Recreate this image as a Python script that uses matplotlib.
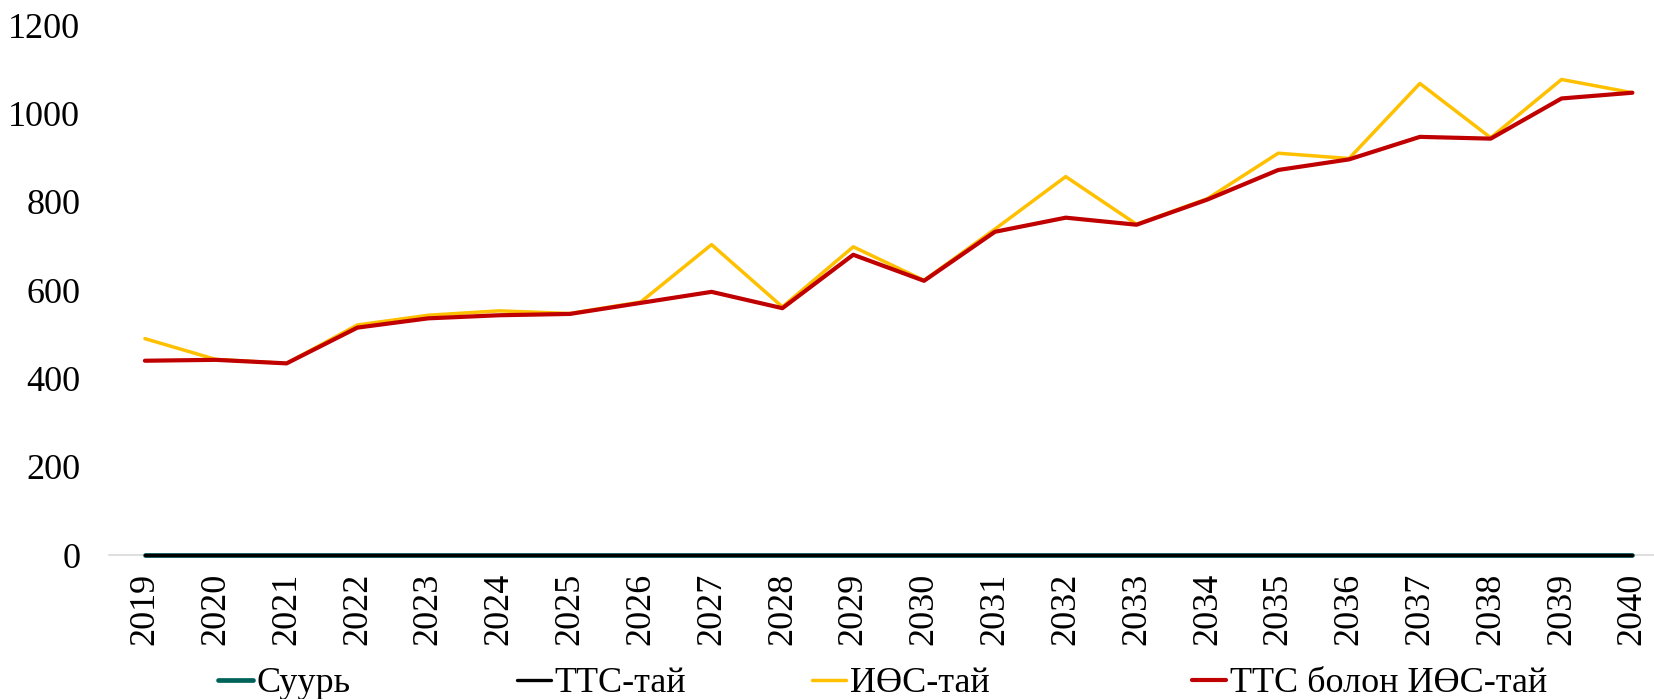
import matplotlib
matplotlib.use("Agg")
import matplotlib.pyplot as plt

years = list(range(2019, 2041))
suur = [0] * 22
ttc = [0] * 22
ios = [490, 443, 434, 521, 543, 553, 547, 573, 703, 562, 698,
       622, 738, 857, 749, 807, 910, 898, 1068, 945, 1077, 1047]
ttc_ios = [440, 442, 434, 515, 536, 543, 546, 571, 596, 559, 680,
           621, 732, 764, 748, 805, 872, 896, 947, 943, 1034, 1047]

plt.rcParams["font.family"] = ["Liberation Serif", "DejaVu Serif"]

fig = plt.figure(figsize=(16.54, 6.99), dpi=100)
ax = fig.add_axes([0.0662, 0.206, 0.934, 0.758])

x = range(len(years))
l1, = ax.plot(x, suur, color="#00635A", lw=3.4, label="Суурь",
              solid_capstyle="round", clip_on=False, zorder=3)
l2, = ax.plot(x, ttc, color="black", lw=2.4, label="ТТС-тай",
              solid_capstyle="round", clip_on=False, zorder=3)
l3, = ax.plot(x, ios, color="#FFC000", lw=2.5, label="ИӨС-тай",
              solid_capstyle="round", zorder=3)
l4, = ax.plot(x, ttc_ios, color="#C00000", lw=3.0, label="ТТС болон ИӨС-тай",
              solid_capstyle="round", zorder=4)

ax.set_xlim(-0.5, 21.31)
ax.set_ylim(0, 1200)
ax.set_yticks(range(0, 1201, 200))
ax.set_xticks(list(x))
ax.set_xticklabels([str(y) for y in years], rotation=90)
ax.tick_params(axis="both", length=0, labelsize=26)
ax.tick_params(axis="y", pad=21)
ax.tick_params(axis="x", pad=13)

for s in ["top", "right", "left"]:
    ax.spines[s].set_visible(False)
ax.spines["bottom"].set_color("#D9D9D9")
ax.spines["bottom"].set_linewidth(1.2)
ax.spines["bottom"].set_zorder(1)

# legend entries are placed one by one, as in the original the gaps differ
legend_x = [0.132, 0.3125, 0.491, 0.7207]
for h, lx in zip([l1, l2, l3, l4], legend_x):
    fig.legend(handles=[h], loc="center left", bbox_to_anchor=(lx, 0.022),
               frameon=False, fontsize=26, handlelength=0.95,
               handletextpad=0.1, borderpad=0, borderaxespad=0)

fig.savefig("out.png", dpi=100)
